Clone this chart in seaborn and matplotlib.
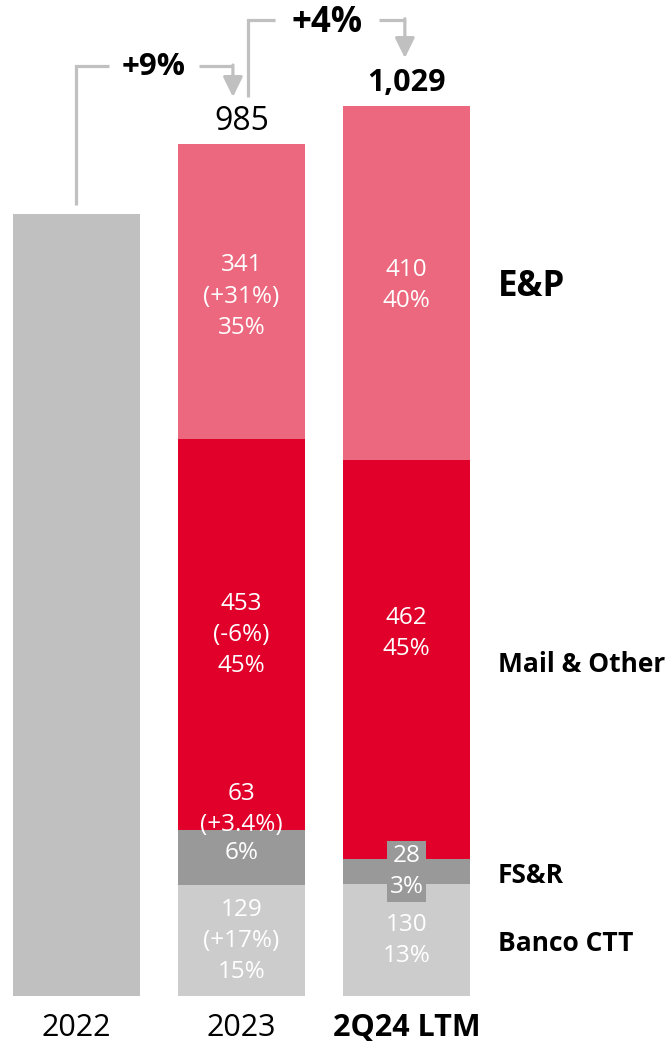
import matplotlib
matplotlib.use("Agg")
import matplotlib.pyplot as plt
import seaborn as sns
import numpy as np
import pandas as pd

# ---------------- data ----------------
periods = ["2022", "2023", "2Q24 LTM"]
total_2022 = [905, np.nan, np.nan]
banco = [np.nan, 129, 130]
fsr = [np.nan, 63, 28]
mail = [np.nan, 453, 462]
ep = [np.nan, 341, 410]
total_labels = ["", "985", "1,029"]
growth_labels = ["+9%", "+4%"]
ep_labels = ["", "341\n(+31%)\n35%", "410\n40%"]
mail_labels = ["", "453\n(-6%)\n45%", "462\n45%"]
fsr_value_labels = ["", "63\n(+3.4%)", "28"]
fsr_share_labels = ["", "6%", "3%"]
banco_labels = ["", "129\n(+17%)\n15%", "130\n13%"]
segment_names = ["E&P", "Mail & Other", "FS&R", "Banco CTT"]

# ---------------- style ----------------
sns.set_theme(style="white")
plt.rcParams["font.family"] = ["Open Sans", "DejaVu Sans"]

C_EP = "#EC687E"
C_MAIL = "#E0002A"
C_FSR = "#999999"
C_BANCO = "#CCCCCC"
C_2022 = "#C0C0C0"
C_ARROW = "#C0C0C0"

fig = plt.figure(figsize=(6.72, 10.43), dpi=100)
ax = fig.add_axes([0, 0, 1, 1])

b = np.array(banco, dtype=float)
f = np.array(fsr, dtype=float)
m = np.array(mail, dtype=float)
e = np.array(ep, dtype=float)
c1 = b
c2 = b + f
c3 = c2 + m
c4 = c3 + e

W = 0.764
df = pd.DataFrame({"period": periods, "t22": total_2022, "c1": c1, "c2": c2, "c3": c3, "c4": c4})
for col, colr in [("c4", C_EP), ("c3", C_MAIL), ("c2", C_FSR), ("c1", C_BANCO), ("t22", C_2022)]:
    sns.barplot(data=df, x="period", y=col, order=periods, color=colr, width=W,
                linewidth=0, errorbar=None, saturation=1, ax=ax)

ax.set_xlim(-0.4636, 3.609)
ax.set_ylim(-54.4, 1152.8)
ax.axis("off")

FS = 17.5
txt_kw = dict(ha="center", va="center", color="white", fontsize=FS, linespacing=1.4)
for i in (1, 2):
    ax.text(i, (c3[i] + c4[i]) / 2 - (6 if i == 1 else 3), ep_labels[i], **txt_kw)
    mail_y = (c2[i] + c3[i]) / 2 - 1 if i == 1 else 420
    ax.text(i, mail_y, mail_labels[i], **txt_kw)
    ax.text(i, c1[i] / 2 - 1, banco_labels[i], **txt_kw)

# FS&R 2023: value above segment, share inside
ax.text(1, 216, fsr_value_labels[1], zorder=1.5, **txt_kw)
ax.text(1, (c1[1] + c2[1]) / 2 + 5, fsr_share_labels[1], **txt_kw)
# FS&R 2Q24: boxed
ax.text(2, (c1[2] + c2[2]) / 2, fsr_value_labels[2] + "\n" + fsr_share_labels[2],
        bbox=dict(boxstyle="square,pad=0.12", fc=C_FSR, ec="none"), **txt_kw)

# totals
ax.text(1, 1011.6, total_labels[1], ha="center", va="center", fontsize=23, color="black")
ax.text(2, 1056.7, total_labels[2], ha="center", va="center", fontsize=22,
        fontweight="bold", color="black")

# period labels
for i, p in enumerate(periods):
    ax.text(i, -37, p, ha="center", va="center", fontsize=22, color="black",
            fontweight="bold" if i == 2 else "normal")

# segment labels on right
seg_y = [(c3[2] + c4[2]) / 2 - 4, 384, 139, 60.5]
seg_fs = [25, 19, 19, 19]
for name, y, fs in zip(segment_names, seg_y, seg_fs):
    ax.text(2.555, y, name, ha="left", va="center", fontsize=fs,
            fontweight="bold", color="black")

# growth brackets
LW = 2.3
def bracket(x0, y0, ylev, xg1, xg2, x1, ytip, label, yl, fs):
    ax.plot([x0, x0, xg1], [y0, ylev, ylev], color=C_ARROW, lw=LW, solid_capstyle="butt",
            solid_joinstyle="miter")
    ax.plot([xg2, x1], [ylev, ylev], color=C_ARROW, lw=LW, solid_capstyle="butt")
    ax.annotate("", xy=(x1, ytip), xytext=(x1, ylev + 1.5),
                arrowprops=dict(arrowstyle="-|>,head_length=0.55,head_width=0.27",
                                mutation_scale=22, color=C_ARROW, lw=LW,
                                shrinkA=0, shrinkB=0))
    ax.text((xg1 + xg2) / 2, yl, label, ha="center", va="center", fontsize=fs,
            fontweight="bold", color="black")

bracket(0.0, 915.5, 1076, 0.197, 0.742, 0.948, 1040.5, growth_labels[0], 1075, 22.5)
bracket(1.039, 1040.5, 1129.6, 1.203, 1.833, 1.99, 1085.6, growth_labels[1], 1126, 25)

fig.savefig("out.png", dpi=100)
